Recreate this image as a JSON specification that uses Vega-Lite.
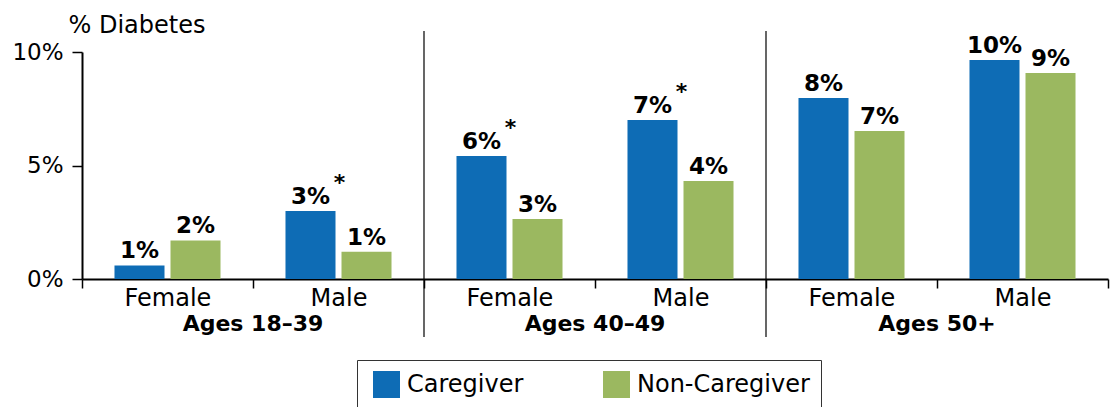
{
  "$schema": "https://vega.github.io/schema/vega-lite/v6.json",
  "width": 1026,
  "height": 227,
  "autosize": {"type": "none"},
  "padding": {"left": 82, "top": 52, "right": 2, "bottom": 128},
  "background": "white",
  "config": {
    "font": "DejaVu Sans",
    "view": {"stroke": null},
    "axis": {"grid": false}
  },
  "datasets": {
    "bars": [
      {"cat": "18–39|Female", "group": "Caregiver", "value": 0.6, "label": "1%", "star": ""},
      {"cat": "18–39|Female", "group": "Non-Caregiver", "value": 1.7, "label": "2%", "star": ""},
      {"cat": "18–39|Male", "group": "Caregiver", "value": 3.0, "label": "3%", "star": "*"},
      {"cat": "18–39|Male", "group": "Non-Caregiver", "value": 1.2, "label": "1%", "star": ""},
      {"cat": "40–49|Female", "group": "Caregiver", "value": 5.42, "label": "6%", "star": "*"},
      {"cat": "40–49|Female", "group": "Non-Caregiver", "value": 2.64, "label": "3%", "star": ""},
      {"cat": "40–49|Male", "group": "Caregiver", "value": 7.0, "label": "7%", "star": "*"},
      {"cat": "40–49|Male", "group": "Non-Caregiver", "value": 4.32, "label": "4%", "star": ""},
      {"cat": "50+|Female", "group": "Caregiver", "value": 7.97, "label": "8%", "star": ""},
      {"cat": "50+|Female", "group": "Non-Caregiver", "value": 6.52, "label": "7%", "star": ""},
      {"cat": "50+|Male", "group": "Caregiver", "value": 9.65, "label": "10%", "star": ""},
      {"cat": "50+|Male", "group": "Non-Caregiver", "value": 9.07, "label": "9%", "star": ""}
    ],
    "ages": [
      {"cat": "18–39|Male", "age": "Ages 18–39"},
      {"cat": "40–49|Male", "age": "Ages 40–49"},
      {"cat": "50+|Male", "age": "Ages 50+"}
    ],
    "seps": [
      {"cat": "40–49|Female"},
      {"cat": "50+|Female"}
    ]
  },
  "layer": [
    {
      "data": {"name": "seps"},
      "mark": {"type": "rule", "color": "black", "strokeWidth": 1.2},
      "encoding": {
        "x": {"field": "cat", "type": "nominal", "bandPosition": 0,
              "scale": {"domain": ["18–39|Female", "18–39|Male", "40–49|Female", "40–49|Male", "50+|Female", "50+|Male"], "paddingInner": 0, "paddingOuter": 0}},
        "y": {"datum": 10.93, "type": "quantitative"},
        "y2": {"datum": -2.56}
      }
    },
    {
      "data": {"name": "bars"},
      "mark": {"type": "bar"},
      "encoding": {
        "x": {"field": "cat", "type": "nominal",
              "axis": {
                "title": null,
                "labelExpr": "split(datum.label, '|')[1]",
                "labelAngle": 0,
                "labelAlign": "center",
                "labelBaseline": "top",
                "labelFontSize": 24,
                "labelColor": "black",
                "labelPadding": -2,
                "tickBand": "extent",
                "tickSize": 9,
                "tickColor": "black",
                "tickWidth": 1.5,
                "domainColor": "black",
                "domainWidth": 2
              }},
        "xOffset": {"field": "group", "type": "nominal", "scale": {"paddingInner": 0.107, "paddingOuter": 0.58}},
        "y": {"field": "value", "type": "quantitative",
              "scale": {"domain": [0, 10], "nice": false, "zero": true},
              "axis": {
                "title": "% Diabetes",
                "titleAngle": 0,
                "titleAlign": "left",
                "titleBaseline": "middle",
                "titleX": -14,
                "titleY": -27,
                "titleFontSize": 24,
                "titleFontWeight": "normal",
                "titleColor": "black",
                "values": [0, 5, 10],
                "labelExpr": "datum.value + '%'",
                "labelFontSize": 23,
                "labelColor": "black",
                "labelPadding": 9,
                "tickSize": 10,
                "tickColor": "black",
                "tickWidth": 1.5,
                "domainColor": "black",
                "domainWidth": 2
              }},
        "color": {"field": "group", "type": "nominal",
                  "scale": {"domain": ["Caregiver", "Non-Caregiver"], "range": ["#0E6CB5", "#9BB860"]},
                  "legend": {
                    "title": null,
                    "orient": "none",
                    "legendX": 275,
                    "legendY": 308,
                    "direction": "horizontal",
                    "columns": 2,
                    "gridAlign": "all",
                    "columnPadding": 18,
                    "padding": 11,
                    "symbolOffset": 5,
                    "strokeColor": "#333",
                    "symbolType": "square",
                    "symbolSize": 729,
                    "symbolStrokeWidth": 0,
                    "symbolOpacity": 1,
                    "labelFontSize": 24,
                    "labelLimit": 400,
                    "labelColor": "black",
                    "labelOffset": 7
                  }}
      }
    },
    {
      "data": {"name": "bars"},
      "mark": {"type": "text", "fontWeight": "bold", "fontSize": 23, "baseline": "bottom", "dy": -2, "color": "black"},
      "encoding": {
        "x": {"field": "cat", "type": "nominal"},
        "xOffset": {"field": "group", "type": "nominal"},
        "y": {"field": "value", "type": "quantitative"},
        "text": {"field": "label"}
      }
    },
    {
      "data": {"name": "bars"},
      "transform": [{"filter": "datum.star == '*'"}],
      "mark": {"type": "text", "fontWeight": "bold", "fontSize": 22, "baseline": "bottom", "dy": -16, "dx": 29, "color": "black"},
      "encoding": {
        "x": {"field": "cat", "type": "nominal"},
        "xOffset": {"field": "group", "type": "nominal"},
        "y": {"field": "value", "type": "quantitative"},
        "text": {"field": "star"}
      }
    },
    {
      "data": {"name": "ages"},
      "mark": {"type": "text", "fontWeight": "bold", "fontSize": 22, "baseline": "middle", "dy": 45, "color": "black"},
      "encoding": {
        "x": {"field": "cat", "type": "nominal", "bandPosition": 0},
        "y": {"datum": 0, "type": "quantitative"},
        "text": {"field": "age"}
      }
    }
  ]
}
